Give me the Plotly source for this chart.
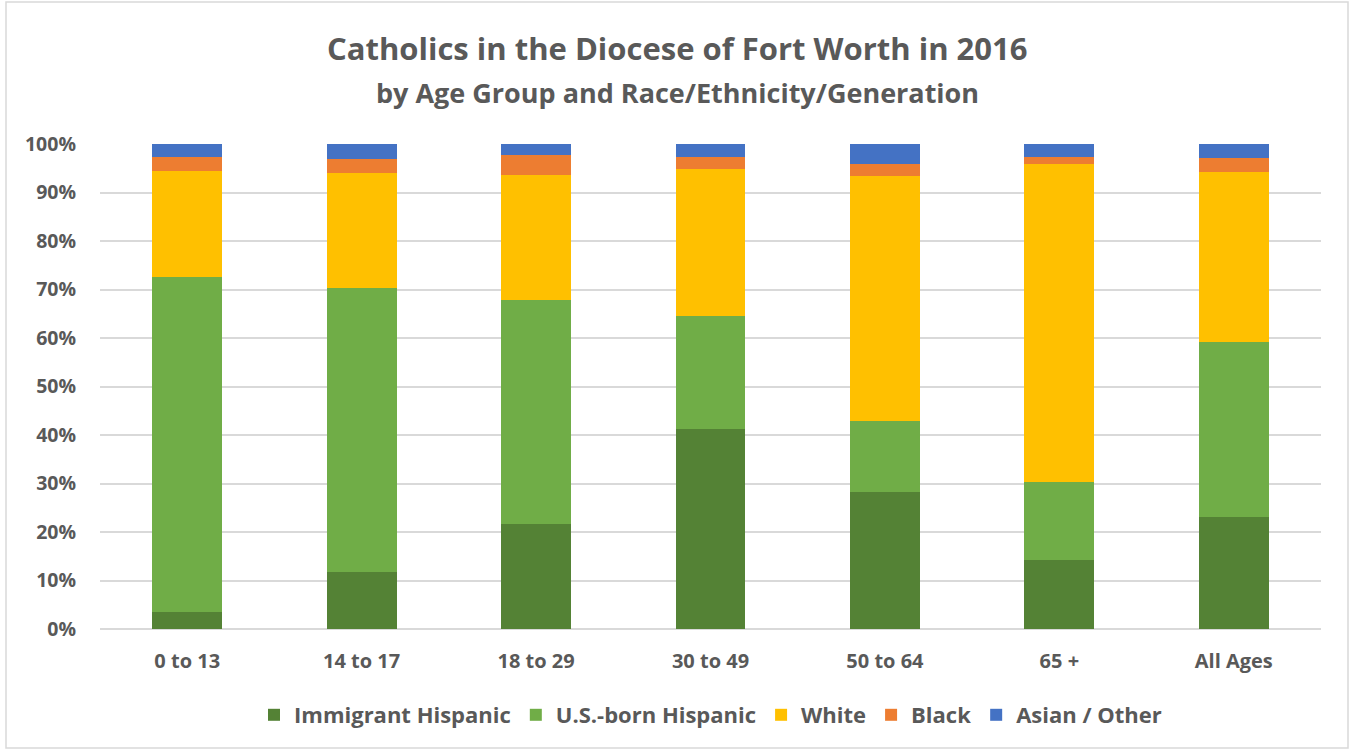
import plotly.graph_objects as go

categories = ["0 to 13", "14 to 17", "18 to 29", "30 to 49", "50 to 64", "65 +", "All Ages"]
immigrant_hispanic = [3.6, 11.7, 21.7, 41.2, 28.3, 14.3, 23.0]
us_born_hispanic = [68.9, 58.6, 46.2, 23.4, 14.6, 16.1, 36.2]
white = [22.0, 23.7, 25.8, 30.2, 50.6, 65.5, 35.1]
black = [2.9, 2.9, 4.0, 2.5, 2.4, 1.4, 2.8]
asian_other = [2.6, 3.1, 2.3, 2.7, 4.1, 2.7, 2.9]

series = [
    ("Immigrant Hispanic", immigrant_hispanic, "#548235"),
    ("U.S.-born Hispanic", us_born_hispanic, "#70AD47"),
    ("White", white, "#FFC000"),
    ("Black", black, "#ED7D31"),
    ("Asian / Other", asian_other, "#4472C4"),
]

FONT = "Open Sans"
GRAY = "#595959"

fig = go.Figure()
for name, vals, color in series:
    fig.add_trace(go.Bar(
        x=categories, y=[v / 100 for v in vals], name=name,
        marker=dict(color=color, line=dict(width=0)),
    ))

L, R, T, B = 100, 30, 144, 122
W, H = 1351, 751
pw, ph = W - L - R, H - T - B

fig.update_layout(
    width=W, height=H,
    barmode="stack", bargap=0.6,
    paper_bgcolor="white", plot_bgcolor="white",
    margin=dict(l=L, r=R, t=T, b=B),
    font=dict(family=FONT, color=GRAY),
    showlegend=True,
    legend=dict(
        orientation="h", x=0.5, xanchor="center", y=-(715 - 629) / ph, yanchor="middle",
        font=dict(size=22, family=FONT, color=GRAY, weight="bold"),
        traceorder="normal", itemwidth=30, itemsizing="constant",
    ),
    xaxis=dict(
        tickfont=dict(size=20, family=FONT, color=GRAY, weight="bold"),
        showline=False, ticks="", ticklabelstandoff=18,
    ),
    yaxis=dict(
        range=[0, 1], tickformat=".0%", dtick=0.1,
        tickfont=dict(size=19.5, family=FONT, color=GRAY, weight="bold"),
        gridcolor="#D9D9D9", gridwidth=1.5, zeroline=True, zerolinecolor="#D9D9D9", zerolinewidth=1.5,
        ticks="", ticklabelstandoff=23,
    ),
    annotations=[
        dict(text="<b>Catholics in the Diocese of Fort Worth in 2016</b>", xref="paper", yref="paper",
             x=(677 - L) / pw, y=(T - 48) / ph + 1, xanchor="center", yanchor="middle", showarrow=False,
             font=dict(size=31, family=FONT, color=GRAY)),
        dict(text="<b>by Age Group and Race/Ethnicity/Generation</b>", xref="paper", yref="paper",
             x=(677 - L) / pw, y=(T - 93) / ph + 1, xanchor="center", yanchor="middle", showarrow=False,
             font=dict(size=27, family=FONT, color=GRAY)),
    ],
    shapes=[dict(type="rect", xref="paper", yref="paper",
                 x0=(6 - L) / pw, x1=(1348 - L) / pw, y0=1 + (T - 2) / ph, y1=-(748 - T - ph) / ph,
                 line=dict(color="#D9D9D9", width=1.5), fillcolor="rgba(0,0,0,0)", layer="below")],
)

fig.write_html("out.html", config={"displayModeBar": False},
               post_script="document.body.style.margin='0';")
